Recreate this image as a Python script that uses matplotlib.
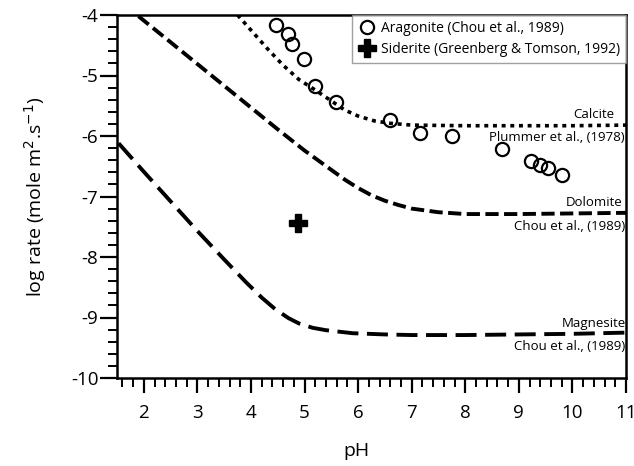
import numpy as np
import matplotlib
matplotlib.use('Agg')
import matplotlib.pyplot as plt
from matplotlib.ticker import MultipleLocator

plt.rcParams['font.family'] = ['Open Sans', 'DejaVu Sans']
plt.rcParams['axes.unicode_minus'] = False

# aragonite data points (Chou et al., 1989)
arag_ph = [4.47, 4.69, 4.77, 4.99, 5.19, 5.59, 6.60, 7.16, 7.76, 8.68, 9.23, 9.39, 9.54, 9.81]
arag_rate = [-4.17, -4.31, -4.48, -4.72, -5.17, -5.43, -5.74, -5.95, -6.00, -6.22, -6.41, -6.48, -6.53, -6.64]

# siderite (Greenberg & Tomson, 1992)
sid_ph = [4.88]
sid_rate = [-7.43]

# rate curves
calc_ph = [3.75, 4.0, 4.3, 4.6, 4.9, 5.2, 5.5, 5.75, 6.0, 6.3, 6.6, 7.0, 8.0, 9.0, 10.0, 11.0]
calc_rate = [-4.0, -4.25, -4.55, -4.83, -5.07, -5.24, -5.42, -5.57, -5.67, -5.75, -5.79, -5.82,
             -5.83, -5.83, -5.83, -5.82]

dolo_ph = [1.9, 2.5, 3.0, 3.5, 4.0, 4.5, 5.0, 5.5, 5.75, 6.0, 6.25, 6.5, 6.75, 7.0, 7.5, 8.0,
           9.0, 10.0, 11.0]
dolo_rate = [-4.02, -4.45, -4.81, -5.17, -5.53, -5.89, -6.24, -6.56, -6.72, -6.86, -6.98, -7.07,
             -7.14, -7.2, -7.26, -7.29, -7.29, -7.28, -7.27]

magn_ph = [1.53, 2.0, 2.5, 3.0, 3.5, 3.9, 4.2, 4.45, 4.7, 4.9, 5.15, 5.4, 5.9, 6.5, 7.0, 8.0,
           9.0, 10.0, 11.0]
magn_rate = [-6.12, -6.59, -7.08, -7.57, -8.04, -8.41, -8.67, -8.86, -9.01, -9.1, -9.17, -9.21,
             -9.26, -9.28, -9.29, -9.29, -9.28, -9.27, -9.25]

fig = plt.figure(figsize=(6.34, 4.66), dpi=100)
ax = fig.add_axes([117 / 634, 1 - 378 / 466, (626 - 117) / 634, (378 - 15) / 466])

ax.plot(calc_ph, calc_rate, color='black', lw=2.6, linestyle=(0, (1.1, 1.3)), dash_capstyle='butt')
ax.plot(dolo_ph, dolo_rate, color='black', lw=2.8, linestyle=(0, (3.4, 1.4)))
ax.plot(magn_ph, magn_rate, color='black', lw=2.8, linestyle=(0, (5.4, 2.2)))

ax.plot(arag_ph, arag_rate, 'o', ms=9.5, mfc='none', mec='black', mew=1.6,
        label='Aragonite (Chou et al., 1989)', zorder=5)
ax.plot(sid_ph, sid_rate, 'P', ms=13, color='black', label='Siderite (Greenberg & Tomson, 1992)', zorder=5)

# curve labels
ax.text(10.4, -5.7, 'Calcite', fontsize=9.5, ha='center', va='baseline')
ax.text(10.98, -6.08, 'Plummer et al., (1978)', fontsize=9.5, ha='right', va='baseline')
ax.text(10.4, -7.15, 'Dolomite', fontsize=9.5, ha='center', va='baseline')
ax.text(10.98, -7.56, 'Chou et al., (1989)', fontsize=9.5, ha='right', va='baseline')
ax.text(10.4, -9.15, 'Magnesite', fontsize=9.5, ha='center', va='baseline')
ax.text(10.98, -9.54, 'Chou et al., (1989)', fontsize=9.5, ha='right', va='baseline')

ax.set_xlim(1.5, 11)
ax.set_ylim(-10, -4)
ax.xaxis.set_major_locator(MultipleLocator(1))
ax.xaxis.set_minor_locator(MultipleLocator(0.2))
ax.yaxis.set_major_locator(MultipleLocator(1))
ax.yaxis.set_minor_locator(MultipleLocator(0.2))
ax.set_xticks(range(2, 12))

ax.tick_params(axis='x', which='major', direction='out', length=11, width=1.6, labelsize=13.5, pad=8)
ax.tick_params(axis='y', which='major', direction='out', length=12, width=1.6, labelsize=13.5, pad=1.5)
ax.tick_params(which='minor', direction='out', length=6.5, width=1.4)
ax.tick_params(top=False, right=False)
for s in ax.spines.values():
    s.set_linewidth(1.8)

ax.set_xlabel('pH', fontsize=14)
ax.set_ylabel('log rate (mole m$^2$.s$^{-1}$)', fontsize=14)
ax.xaxis.set_label_coords(0.47, -0.175)
ax.yaxis.set_label_coords(-0.135, 0.5)

leg = ax.legend(loc='upper right', fontsize=10, frameon=True, fancybox=False,
                borderaxespad=0, handletextpad=0.3, handlelength=1.3, borderpad=0.45,
                labelspacing=0.4)
leg.get_frame().set_edgecolor('#888888')
leg.get_frame().set_linewidth(1.0)

fig.savefig('out.png', dpi=100)
